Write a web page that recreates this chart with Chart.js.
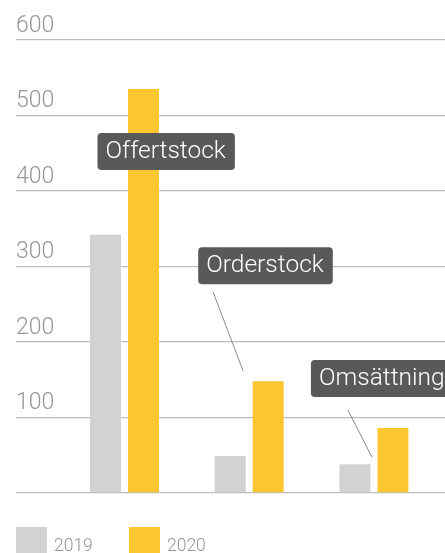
<!DOCTYPE html>
<html>
<head>
<meta charset="utf-8">
<script src="https://cdn.jsdelivr.net/npm/chart.js@4"></script>
<style>
  html, body { margin: 0; padding: 0; background: #fff; }
</style>
</head>
<body>
<canvas id="grafico" width="445" height="553"></canvas>
<script>
// data
const kategorier = ['Offertstock', 'Orderstock', 'Omsättning'];
const serier = ['2019', '2020'];
const varden2019 = [342, 49, 38];
const varden2020 = [535, 148, 86];
const yTicks = [0, 100, 200, 300, 400, 500, 600];

const farger = ['#d1d2d4', '#fbc630'];
const typsnitt = 'Roboto, "Liberation Sans", sans-serif';

// callout boxes, offsets in px from the top of the 2020 bar
const pratbubblor = [
  { dx: -46, dy: 44, linje: null },
  { dx: -70, dy: -134, linje: [[-55, -89], [-25, -10]] },
  { dx: -82, dy: -68, linje: [[-45, -18], [-21, 29]] }
];

const bubblaPlugin = {
  id: 'bubblor',
  afterDatasetsDraw(chart) {
    const ctx = chart.ctx;
    const meta = chart.getDatasetMeta(1);
    ctx.save();
    ctx.font = '300 24.5px ' + typsnitt;
    pratbubblor.forEach((b, i) => {
      const bar = meta.data[i];
      if (b.linje) {
        ctx.strokeStyle = '#8a8a8a';
        ctx.lineWidth = 1;
        ctx.beginPath();
        ctx.moveTo(bar.x + b.linje[0][0], bar.y + b.linje[0][1]);
        ctx.lineTo(bar.x + b.linje[1][0], bar.y + b.linje[1][1]);
        ctx.stroke();
      }
      const text = kategorier[i];
      const w = ctx.measureText(text).width + 17;
      const x = bar.x + b.dx;
      const y = bar.y + b.dy;
      ctx.fillStyle = '#58595b';
      ctx.beginPath();
      ctx.roundRect(x, y, w, 37, 4);
      ctx.fill();
      ctx.fillStyle = '#ffffff';
      ctx.textBaseline = 'middle';
      ctx.textAlign = 'left';
      ctx.fillText(text, x + 8, y + 19);
    });
    ctx.restore();
  }
};

const legendPlugin = {
  id: 'legendRuta',
  afterDraw(chart) {
    const ctx = chart.ctx;
    ctx.save();
    ctx.font = '300 17.5px ' + typsnitt;
    ctx.textBaseline = 'alphabetic';
    const startX = [16, 129];
    chart.data.datasets.forEach((ds, i) => {
      ctx.fillStyle = ds.backgroundColor;
      ctx.fillRect(startX[i], 527, 31, 28);
      ctx.fillStyle = '#969696';
      ctx.fillText(ds.label, startX[i] + 38, 551);
    });
    ctx.restore();
  }
};

new Chart(document.getElementById('grafico'), {
  type: 'bar',
  data: {
    datasets: serier.map((s, k) => ({
      label: s,
      data: kategorier.map((c, i) => ({ x: i, y: (k === 0 ? varden2019 : varden2020)[i] })),
      backgroundColor: farger[k],
      borderWidth: 0,
      categoryPercentage: 0.609,
      barPercentage: 0.816
    }))
  },
  options: {
    responsive: false,
    animation: false,
    devicePixelRatio: 1,
    layout: { padding: { left: 16, right: 0, top: 40, bottom: 60 } },
    plugins: { legend: { display: false }, tooltip: { enabled: false } },
    scales: {
      x: {
        type: 'linear',
        offset: false,
        min: -0.87,
        max: 2.57,
        display: false,
        ticks: { stepSize: 1, includeBounds: false }
      },
      y: {
        min: 0,
        max: 600,
        afterBuildTicks(scale) { scale.ticks = yTicks.map(v => ({ value: v })); },
        border: { display: false },
        grid: { color: '#bcbcbc', lineWidth: 1.3, drawTicks: false },
        ticks: {
          mirror: true,
          padding: 0,
          labelOffset: -14,
          color: '#969696',
          font: { family: typsnitt, size: 23, weight: '300' },
          callback: v => (v === 0 ? '' : v)
        }
      }
    }
  },
  plugins: [bubblaPlugin, legendPlugin]
});
</script>
</body>
</html>
